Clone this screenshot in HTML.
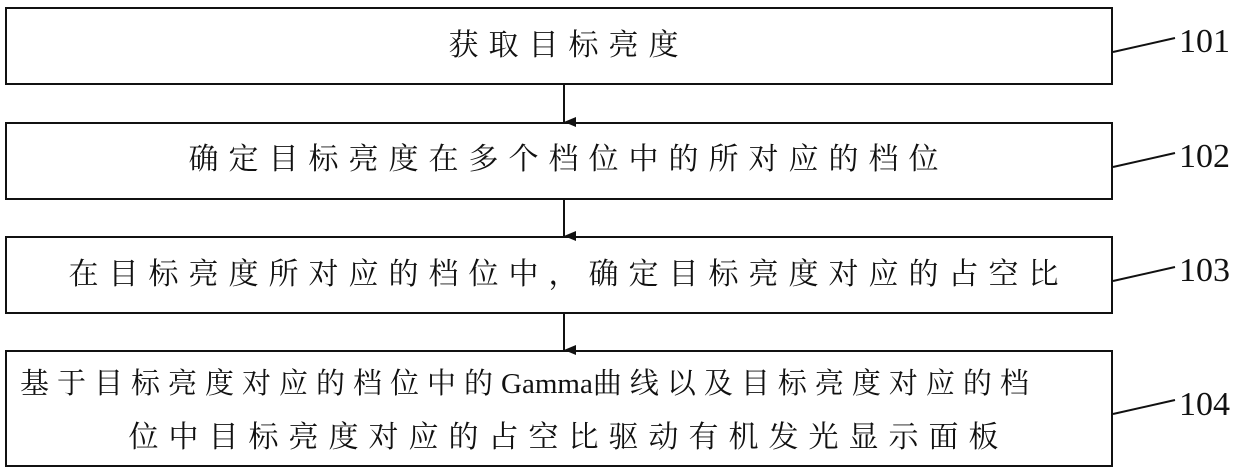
<!DOCTYPE html>
<html><head><meta charset="utf-8"><style>
body{margin:0;width:1240px;height:471px;background:#fff;position:relative;overflow:hidden}
.t{position:absolute;font-family:"Liberation Serif","Noto Serif CJK SC",serif;font-size:30px;letter-spacing:10px;color:#111;white-space:nowrap;line-height:1}
.g{letter-spacing:0}
</style></head><body>
<svg width="1240" height="471" style="position:absolute;left:0;top:0">
<defs><marker id="a" markerWidth="10" markerHeight="12" refX="5" refY="12" orient="auto" markerUnits="userSpaceOnUse"><path d="M0,0 L5,12 L10,0 Z" fill="#111"/></marker></defs>
<g fill="none" stroke="#111" stroke-width="2">
<rect x="6" y="8" width="1106" height="76"/>
<rect x="6" y="123" width="1106" height="76"/>
<rect x="6" y="237" width="1106" height="76"/>
<rect x="6" y="351" width="1106" height="115"/>
<line x1="564" y1="84" x2="564" y2="122" marker-end="url(#a)"/>
<line x1="564" y1="199" x2="564" y2="236" marker-end="url(#a)"/>
<line x1="564" y1="313" x2="564" y2="350" marker-end="url(#a)"/>
<line x1="1113" y1="52" x2="1175" y2="38"/>
<line x1="1113" y1="167" x2="1175" y2="153"/>
<line x1="1113" y1="281" x2="1175" y2="267"/>
<line x1="1113" y1="414" x2="1175" y2="400"/>
</g>
<g font-family="Liberation Serif,serif" font-size="34" fill="#111">
<text x="1179" y="52">101</text><text x="1179" y="167">102</text><text x="1179" y="281">103</text><text x="1179" y="415">104</text>
</g>
</svg>
<div class="t" style="left:10px;width:1117px;text-align:center;top:31px">获取目标亮度</div>
<div class="t" style="left:10px;width:1117px;text-align:center;top:145px">确定目标亮度在多个档位中的所对应的档位</div>
<div class="t" style="left:10px;width:1117px;text-align:center;top:260px">在目标亮度所对应的档位中，确定目标亮度对应的占空比</div>
<div class="t" style="left:20px;top:370px;font-size:29px;letter-spacing:8px">基于目标亮度对应的档位中的<span class="g">Gamma</span>曲线以及目标亮度对应的档</div>
<div class="t" style="left:10px;width:1117px;text-align:center;top:423px">位中目标亮度对应的占空比驱动有机发光显示面板</div>
</body></html>
